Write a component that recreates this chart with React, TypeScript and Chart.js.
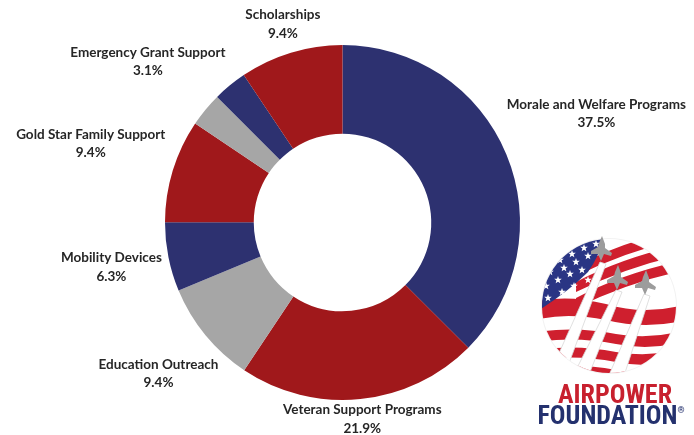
import React, { useEffect, useRef } from "react";
import { Chart, registerables } from "chart.js";

Chart.register(...registerables);

const CATEGORIES = [
  "Morale and Welfare Programs",
  "Veteran Support Programs",
  "Education Outreach",
  "Mobility Devices",
  "Gold Star Family Support",
  "",
  "Emergency Grant Support",
  "Scholarships",
];
const PERCENTAGES = [37.5, 21.9, 9.4, 6.3, 9.4, 3.1, 3.1, 9.4];
const NAVY = "#2d3170";
const RED = "#a0181b";
const GRAY = "#a6a6a6";
const SLICE_COLORS = [NAVY, RED, GRAY, NAVY, RED, GRAY, NAVY, RED];

// label nudges (px) from each slice's outer mid-point to the label block centre
const LABEL_NUDGES: [number, number][] = [
  [90, -41],
  [2, 20],
  [-47, 38],
  [-57, 10],
  [-82, -27],
  [0, 0],
  [-82, -24],
  [-8, -29],
];

const labelPlugin = {
  id: "sliceLabels",
  afterDatasetsDraw(chart: any) {
    const meta = chart.getDatasetMeta(0);
    const ctx: CanvasRenderingContext2D = chart.ctx;
    ctx.save();
    ctx.textAlign = "center";
    ctx.textBaseline = "middle";
    ctx.fillStyle = "#262626";
    meta.data.forEach((arc: any, i: number) => {
      const name = CATEGORIES[i];
      if (!name) return;
      const p = arc.getProps(["x", "y", "startAngle", "endAngle", "outerRadius"], true);
      const mid = (p.startAngle + p.endAngle) / 2;
      const px = p.x + Math.cos(mid) * p.outerRadius;
      const py = p.y + Math.sin(mid) * p.outerRadius;
      const [nx, ny] = LABEL_NUDGES[i];
      const cx = px + nx;
      const cy = py + ny;
      ctx.font = "bold 13.5px Lato, 'Noto Sans', sans-serif";
      ctx.fillText(name, cx, cy - 9);
      ctx.fillText(PERCENTAGES[i].toFixed(1) + "%", cx, cy + 9.5);
    });
    ctx.restore();
  },
};

function starPoints(cx: number, cy: number, r: number) {
  const pts: string[] = [];
  for (let k = 0; k < 10; k++) {
    const a = -Math.PI / 2 + (k * Math.PI) / 5;
    const rr = k % 2 === 0 ? r : r * 0.42;
    pts.push(`${(cx + Math.cos(a) * rr).toFixed(2)},${(cy + Math.sin(a) * rr).toFixed(2)}`);
  }
  return pts.join(" ");
}

const STAR_SPOTS: [number, number][] = [
  [24, 28], [36, 22], [48, 16], [60, 12], [14, 40], [28, 36], [40, 30], [52, 24],
  [10, 54], [22, 48], [34, 42], [46, 38], [12, 66], [26, 60], [38, 54], [52, 48],
];

function jet(x: number, y: number) {
  return `M${x} ${y} L${x + 3} ${y + 8} L${x + 3} ${y + 12} L${x + 10} ${y + 17} L${x + 9} ${y + 20} L${x + 2} ${y + 18} L${x - 1} ${y + 25} L${x - 4} ${y + 18} L${x - 11} ${y + 18} L${x - 11} ${y + 15} L${x - 4} ${y + 11} L${x - 3} ${y + 7} Z`;
}

function Logo() {
  return (
    <div style={{ position: "absolute", left: 536, top: 232, width: 150, height: 200 }}>
      <svg width={150} height={145} viewBox="0 0 150 145" style={{ position: "absolute", left: 0, top: 0 }}>
        <defs>
          <clipPath id="flagClip">
            <circle cx={73} cy={74} r={67} />
          </clipPath>
        </defs>
        <circle cx={73} cy={74} r={68} fill="#f2f2f2" />
        <g clipPath="url(#flagClip)">
          <rect x={0} y={0} width={150} height={150} fill="#ffffff" />
          {[10, 26, 42].map((y, k) => (
            <path
              key={"t" + k}
              d={`M40 ${y + 24} Q90 ${y - 2} 150 ${y - 14} L150 ${y - 4} Q92 ${y + 8} 40 ${y + 34} Z`}
              fill="#cf1f2e"
            />
          ))}
          <path d="M0 70 Q30 62 70 72 Q110 84 150 72 L150 88 Q110 98 70 88 Q30 80 0 88 Z" fill="#cf1f2e" />
          {[100, 118, 136].map((y, k) => (
            <path
              key={"b" + k}
              d={`M0 ${y} Q40 ${y - 6} 80 ${y + 2} Q115 ${y + 8} 150 ${y - 2} L150 ${y + 9} Q115 ${y + 19} 80 ${y + 12} Q40 ${y + 4} 0 ${y + 10} Z`}
              fill="#cf1f2e"
            />
          ))}
          <path d="M0 0 L68 0 Q66 20 52 40 Q32 60 0 80 Z" fill="#2a3584" />
          {STAR_SPOTS.map(([x, y], k) => (
            <polygon key={k} points={starPoints(x, y, 4)} fill="#ffffff" />
          ))}
          <path d="M10 150 L64 30 L70 32 L26 150 Z" fill="#ffffff" stroke="#d8d8d8" strokeWidth={0.8} />
          <path d="M34 150 L80 58 L86 60 L50 150 Z" fill="#ffffff" stroke="#d8d8d8" strokeWidth={0.8} />
          <path d="M70 150 L108 62 L114 64 L86 150 Z" fill="#ffffff" stroke="#d8d8d8" strokeWidth={0.8} />
        </g>
        <path d={jet(66, 4)} fill="#9c9c9c" />
        <path d={jet(82, 33)} fill="#9c9c9c" />
        <path d={jet(110, 38)} fill="#9c9c9c" />
      </svg>
      <div
        style={{
          position: "absolute",
          left: 0,
          top: 152,
          width: 150,
          textAlign: "center",
          fontFamily: "'Liberation Sans Narrow', 'Roboto Condensed', 'Liberation Sans', sans-serif",
          fontWeight: 700,
          lineHeight: "21px",
        }}
      >
        <div style={{ color: "#c8202e", fontSize: 26, marginLeft: 8 }}>AIRPOWER</div>
        <div style={{ color: "#24316e", fontSize: 26 }}>
          FOUNDATION<sup style={{ fontSize: 9, verticalAlign: "top", lineHeight: "10px" }}>®</sup>
        </div>
      </div>
    </div>
  );
}

export default function App() {
  const canvasRef = useRef<HTMLCanvasElement | null>(null);

  useEffect(() => {
    if (!canvasRef.current) return;
    const chart = new Chart(canvasRef.current, {
      type: "doughnut",
      data: {
        labels: CATEGORIES,
        datasets: [
          {
            data: PERCENTAGES,
            backgroundColor: SLICE_COLORS,
            borderWidth: 0,
          },
        ],
      },
      options: {
        animation: false,
        responsive: false,
        cutout: "50%",
        layout: { padding: { left: 165, right: 174, top: 45, bottom: 35 } },
        plugins: {
          legend: { display: false },
          tooltip: { enabled: false },
        },
      },
      plugins: [labelPlugin],
    });
    return () => chart.destroy();
  }, []);

  return (
    <div style={{ position: "fixed", left: 0, top: 0, width: 694, height: 435, background: "#ffffff", overflow: "hidden" }}>
      <canvas ref={canvasRef} width={694} height={435} style={{ position: "absolute", left: 0, top: 0, width: 694, height: 435 }} />
      <Logo />
    </div>
  );
}
